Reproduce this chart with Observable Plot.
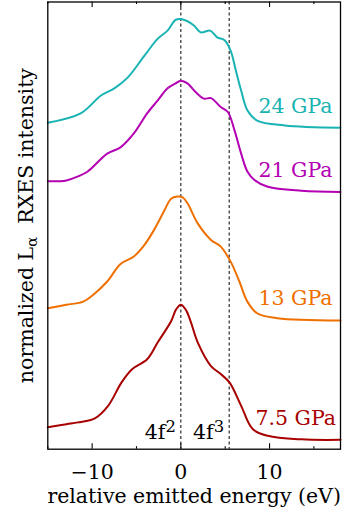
<!DOCTYPE html>
<html><head><meta charset="utf-8">
<script src="https://cdn.jsdelivr.net/npm/d3@7"></script>
<script src="https://cdn.jsdelivr.net/npm/@observablehq/plot@0.6"></script>
<style>html,body{margin:0;padding:0;background:#fff}</style>
</head><body><div id="chart"></div>
<script>
// ---- data ----
const seriesNames = ["24 GPa", "21 GPa", "13 GPa", "7.5 GPa"];
const seriesColors = ["#1ab3b3", "#b300b3", "#ee7000", "#a80000"];

const energy24 = [-15,-11.3,-9,-7.5,-6,-4.1,-2.6,-1.5,-0.6,0,0.75,1.5,2.25,3.3,4.1,4.9,5.6,6.2,6.8,7.5,8.6,11.7,18];
const intensity24 = [73.0,75.1,79.1,80.7,83.1,88.0,91.8,93.6,96.0,96.2,95.7,94.7,93.2,93.6,92.1,91.5,89.2,84.7,80.2,75.8,73.5,72.4,71.9];

const energy21 = [-15,-12.9,-11.6,-10.5,-8.3,-6.8,-5.3,-3.8,-2.6,-1.5,-0.6,0,0.75,1.7,2.6,3.4,4.5,5.3,6.05,6.8,7.5,8.3,9.8,13.6,18];
const intensity21 = [59.9,60.1,61.0,62.1,66.1,67.5,70.6,75.1,78.0,80.7,81.8,82.4,81.8,79.8,78.4,78.5,76.5,75.4,71.3,66.1,62.1,60.2,58.7,57.8,57.5];

const energy13 = [-15,-12.9,-11,-9.9,-8.3,-6.8,-5.3,-4.1,-3,-1.9,-1.1,-0.4,0.2,0.75,1.9,3.4,4.5,5.6,6.6,7.5,8.6,10.9,18];
const intensity13 = [31.5,32.3,33.0,34.5,37.5,41.4,43.1,45.7,49.1,53.2,56.0,56.5,56.3,55.0,50.5,46.8,45.3,42.0,37.5,33.0,30.4,29.3,28.8];

const energy75 = [-15,-12.9,-11.6,-9.7,-8.2,-6.7,-5.5,-3.8,-2.6,-1.1,-0.55,0,0.55,1.1,1.9,3.4,4.5,5.5,6.8,8.1,9.8,13.6,18];
const intensity75 = [4.9,5.6,6.0,6.9,9.7,14.9,17.9,20.1,23.9,28.6,31.2,32.3,31.2,28.6,23.9,18.6,16.8,14.9,9.7,4.5,3.0,2.2,2.1];

const labelX = [17.1, 17.1, 17.1, 17.5];
const labelY = [76.7, 62.4, 33.8, 6.9];

const markerLines = [0, 5.45];
const markerTexts = ["4f²", "4f³"];
const markerTextX = [-0.56, 4.88];
const markerTextY = [3.7, 3.7];

const majorTicks = [-10, 0, 10];
const minorTicks = [-15, -5, 5, 15];
const xLabel = "relative emitted energy (eV)";
const yLabel = "normalized Lα RXES intensity";

// ---- build tables ----
const energies = [energy24, energy21, energy13, energy75];
const intensities = [intensity24, intensity21, intensity13, intensity75];
const rows = [];
seriesNames.forEach((name, k) => energies[k].forEach((e, i) => rows.push({series: name, energy: e, intensity: intensities[k][i]})));
const labels = seriesNames.map((name, k) => ({name, x: labelX[k], y: labelY[k]}));
const markers = markerTexts.map((t, k) => ({t, x: markerTextX[k], y: markerTextY[k]}));

const W = 342, H = 513, mT = 1.5, mB = 64.3, mL = 47.3, mR = 2;
const innerH = H - mT - mB;

const plot = Plot.plot({
  width: W, height: H,
  marginTop: mT, marginBottom: mB, marginLeft: mL, marginRight: mR,
  style: {fontFamily: "DejaVu Serif", fontSize: "20.5px", background: "#fff", color: "#000"},
  x: {domain: [-15, 18]},
  y: {domain: [0, 100], axis: null},
  color: {domain: seriesNames, range: seriesColors},
  marks: [
    Plot.axisX({ticks: majorTicks, tickSize: 0, tickPadding: 15, label: null}),
    Plot.text([xLabel], {text: d => d, frameAnchor: "bottom", textAnchor: "middle", lineAnchor: "middle", dy: 47.5, fill: "#000"}),
    Plot.text([yLabel], {text: d => d, frameAnchor: "left", textAnchor: "middle", rotate: -90, lineAnchor: "top", dx: -29.5, fill: "#000"}),
    Plot.ruleX(markerLines, {x: d => d, stroke: "#000", strokeWidth: 1, strokeDasharray: "3,2.5"}),
    Plot.tickX(majorTicks, {x: d => d, insetTop: innerH - 5.5, stroke: "#000", strokeWidth: 1.1}),
    Plot.tickX(majorTicks, {x: d => d, insetBottom: innerH - 5.5, stroke: "#000", strokeWidth: 1.1}),
    Plot.tickX(minorTicks, {x: d => d, insetTop: innerH - 2.5, stroke: "#000", strokeWidth: 1.1}),
    Plot.tickX(minorTicks, {x: d => d, insetBottom: innerH - 2.5, stroke: "#000", strokeWidth: 1.1}),
    Plot.line(rows, {x: "energy", y: "intensity", z: "series", stroke: "series", strokeWidth: 2, curve: "catmull-rom"}),
    Plot.text(labels, {x: "x", y: "y", text: "name", fill: "name", textAnchor: "end", lineAnchor: "middle"}),
    Plot.text(markers, {x: "x", y: "y", text: "t", fill: "#000", textAnchor: "end", lineAnchor: "middle"}),
    Plot.frame({stroke: "#000", strokeWidth: 1.3})
  ]
});

// superscripts / subscripts as real text
d3.select(plot).selectAll("text").each(function () {
  const s = this.textContent;
  const t = d3.select(this);
  if (s === "4f²" || s === "4f³") {
    const sup = s === "4f²" ? "2" : "3";
    t.text("4f");
    t.append("tspan").attr("dy", "-0.45em").attr("font-size", "0.8em").text(sup);
  } else if (s === yLabel) {
    t.text("normalized L");
    t.append("tspan").attr("dy", "0.3em").attr("font-size", "0.72em").text("α");
    t.append("tspan").attr("dy", "-0.22em").text("\u00a0 RXES intensity");
  }
});

document.getElementById("chart").appendChild(plot);
</script>
</body></html>
